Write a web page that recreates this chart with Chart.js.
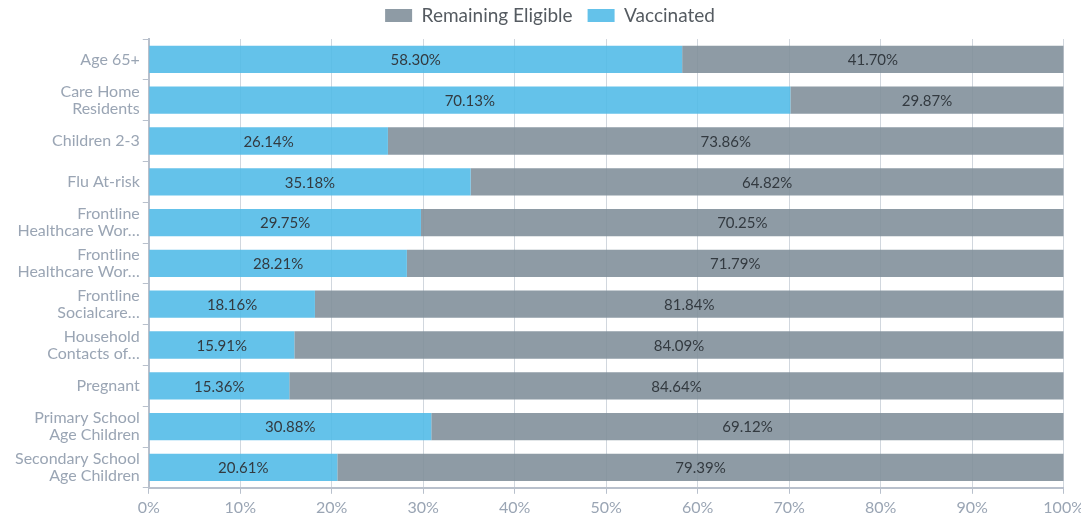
<!DOCTYPE html>
<html>
<head>
<meta charset="utf-8">
<script src="https://cdn.jsdelivr.net/npm/chart.js@4/dist/chart.umd.min.js"></script>
<style>
  html, body { margin: 0; padding: 0; background: #fff; overflow: hidden; }
  #outer { width: 1081px; height: 521px; overflow: hidden; position: relative; }
  #wrap { width: 1088px; height: 521px; position: absolute; left: 0; top: 0; }
</style>
</head>
<body>
<div id="outer"><div id="wrap"><canvas id="c"></canvas></div></div>
<script>
const categories = [
  ["Age 65+"],
  ["Care Home", "Residents"],
  ["Children 2-3"],
  ["Flu At-risk"],
  ["Frontline", "Healthcare Wor…"],
  ["Frontline", "Healthcare Wor…"],
  ["Frontline", "Socialcare…"],
  ["Household", "Contacts of…"],
  ["Pregnant"],
  ["Primary School", "Age Children"],
  ["Secondary School", "Age Children"]
];
const vaccinated = [58.30, 70.13, 26.14, 35.18, 29.75, 28.21, 18.16, 15.91, 15.36, 30.88, 20.61];
const remaining  = [41.70, 29.87, 73.86, 64.82, 70.25, 71.79, 81.84, 84.09, 84.64, 69.12, 79.39];
const xTicks = [0, 10, 20, 30, 40, 50, 60, 70, 80, 90, 100];

const FONT = "Lato, 'Noto Sans', sans-serif";

const segmentLabels = {
  id: 'segmentLabels',
  afterDatasetsDraw(chart) {
    const ctx = chart.ctx;
    ctx.save();
    ctx.font = "15px " + FONT;
    ctx.fillStyle = "#333a40";
    ctx.textAlign = "center";
    ctx.textBaseline = "middle";
    chart.data.datasets.forEach((ds, di) => {
      const meta = chart.getDatasetMeta(di);
      if (meta.hidden) return;
      meta.data.forEach((el, i) => {
        const p = el.getProps(['x', 'y', 'base'], true);
        const cx = (p.x + p.base) / 2;
        ctx.fillText(ds.data[i].toFixed(2) + "%", cx, p.y + 1);
      });
    });
    ctx.restore();
  }
};

const legendSpacer = {
  id: 'legendSpacer',
  beforeInit(chart) {
    const lg = chart.legend;
    const origFit = lg.fit;
    lg.fit = function () {
      origFit.bind(lg)();
      this.height -= 5;
    };
    const origDraw = lg.draw;
    lg.draw = function () {
      const ctx = chart.ctx;
      ctx.save();
      ctx.translate(0, -9);
      origDraw.bind(lg)();
      ctx.restore();
    };
  }
};

new Chart(document.getElementById('c'), {
  type: 'bar',
  data: {
    labels: categories,
    datasets: [
      { label: 'Vaccinated', data: vaccinated, backgroundColor: 'rgba(83,187,232,0.9)', borderWidth: 0 },
      { label: 'Remaining Eligible', data: remaining, backgroundColor: 'rgba(130,144,155,0.9)', borderWidth: 0 }
    ]
  },
  options: {
    indexAxis: 'y',
    responsive: true,
    maintainAspectRatio: false,
    animation: false,
    barPercentage: 0.67,
    categoryPercentage: 1,
    layout: { padding: { left: 12, right: 0, top: 0, bottom: 0 } },
    plugins: {
      legend: {
        reverse: true,
        labels: {
          font: { family: FONT, size: 19 },
          color: '#555b61',
          boxWidth: 27,
          boxHeight: 13,
          padding: 15
        }
      },
      tooltip: { enabled: false }
    },
    scales: {
      x: {
        stacked: true,
        min: 0,
        max: 100,
        afterBuildTicks(scale) { scale.ticks = xTicks.map(v => ({ value: v })); },
        ticks: {
          callback: v => v + '%',
          font: { family: FONT, size: 16 },
          color: '#9aa5b4',
          padding: 4
        },
        grid: { color: 'rgba(190,198,208,0.7)', tickLength: 6, tickColor: '#b8c0cc' },
        border: { color: '#b8c0cc', width: 2 }
      },
      y: {
        stacked: true,
        ticks: {
          font: { family: FONT, size: 16, lineHeight: 1.05 },
          color: '#9aa5b4',
          padding: 3,
          autoSkip: false
        },
        grid: { drawOnChartArea: false, tickLength: 6, tickColor: '#b8c0cc' },
        border: { color: '#b8c0cc', width: 2 }
      }
    }
  },
  plugins: [segmentLabels, legendSpacer]
});
</script>
</body>
</html>
